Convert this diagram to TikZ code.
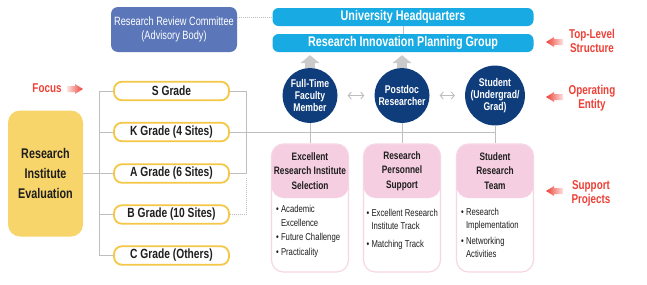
\documentclass[tikz,border=0pt]{standalone}
\usepackage{fontspec}
\setmainfont{Liberation Sans}[FakeStretch=0.77]
\usetikzlibrary{arrows.meta}
\definecolor{gyellow}{HTML}{F5C746}
\definecolor{evalfill}{HTML}{F8D56A}
\definecolor{rrcblue}{HTML}{5B77B9}
\definecolor{cyanb}{HTML}{18AAE2}
\definecolor{navy}{HTML}{0F3D7B}
\definecolor{pinkh}{HTML}{F5CEE1}
\definecolor{pinkb}{HTML}{F6D7E6}
\definecolor{redl}{HTML}{EE4036}
\definecolor{lineg}{HTML}{BEBEBE}
\definecolor{txt}{HTML}{1E1E1E}
\definecolor{arrg}{HTML}{CACACA}
\tikzset{
  conn/.style={draw=lineg, line width=1pt},
  grade/.style={draw=gyellow, line width=1.8pt, fill=white, rounded corners=8pt,
    minimum width=115pt, minimum height=18.5pt, inner sep=0pt, text=txt,
    font=\bfseries\fontsize{13.3}{15}\selectfont},
  evalbox/.style={fill=evalfill, rounded corners=12pt, minimum width=75pt, minimum height=126pt,
    inner sep=0pt, align=center, text=txt, font=\bfseries\fontsize{14}{20}\selectfont},
  rrcbox/.style={fill=rrcblue, rounded corners=7pt, minimum width=126pt, minimum height=45pt,
    inner sep=0pt, align=center, text=white, font=\fontsize{12}{14.5}\selectfont},
  topbar/.style={fill=cyanb, rounded corners=6pt, minimum width=261pt, minimum height=18pt,
    inner sep=0pt, text=white, font=\bfseries\fontsize{14}{15}\selectfont},
  entity/.style={circle, fill=navy, minimum size=55pt, inner sep=0pt, align=center, text=white,
    font=\bfseries\fontsize{11.2}{12.2}\selectfont},
  pbox/.style={draw=pinkb, line width=1.2pt, fill=white, rounded corners=12pt,
    minimum width=77pt, minimum height=128pt, inner sep=0pt,
    path picture={\fill[pinkh] (path picture bounding box.north west) rectangle
      ([yshift=-54pt]path picture bounding box.north east);}},
  htext/.style={align=center, text=txt, inner sep=0pt, font=\bfseries\fontsize{10.8}{14.3}\selectfont},
  btext/.style={align=left, text=txt, inner sep=0pt, anchor=north west},
  rlabel/.style={align=center, text=redl, inner sep=0pt, font=\bfseries\fontsize{12.8}{14}\selectfont},
  uparr/.style={draw=arrg, line width=10pt, -{Triangle[length=8pt,width=19pt]}, shorten >=3pt},
  dblarr/.style={draw=lineg, line width=0.9pt, {Straight Barb[length=3pt,width=7pt]}-{Straight Barb[length=3pt,width=7pt]},
    shorten <=10pt, shorten >=10pt}
}
\begin{document}
\begin{tikzpicture}[x=1pt,y=-1pt]
\useasboundingbox[fill=white] (0,0) rectangle (647,284);

% top structure
\node[rrcbox] (rrc) at (174,29.5) {Research Review Committee\\(Advisory Body)};
\node[topbar] (uh) at (403,17) {University Headquarters};
\node[topbar] (ripg) at (403,43) {Research Innovation Planning Group};
\draw[conn, densely dotted] (rrc.east |- uh.west) -- (uh.west);
\draw[conn] (uh.south) -- (ripg.north);

% operating entities
\node[entity] (c1) at (310,95.5) {Full-Time\\Faculty\\Member};
\node[entity] (c2) at (402,95.5) {Postdoc\\Researcher};
\node[entity] (c3) at (495,95.5) {Student\\(Undergrad/\\Grad)};
\draw[uparr] (c1.north) -- (c1.north |- ripg.south);
\draw[uparr] (c2.north) -- (c2.north |- ripg.south);
\draw[dblarr] (c1.east) -- (c2.west);
\draw[dblarr] (c2.east) -- (c3.west);

% evaluation and grades
\node[evalbox] (eval) at (45.5,173.5) {Research\\Institute\\Evaluation};
\node[grade] (S) at (171.5,91) {S Grade};
\node[grade] (K) at (171.5,132) {K Grade (4 Sites)};
\node[grade] (A) at (171.5,173.5) {A Grade (6 Sites)};
\node[grade] (B) at (171.5,214.5) {B Grade (10 Sites)};
\node[grade] (C) at (171.5,255.5) {C Grade (Others)};
\coordinate (bx) at (99.5,0);
\coordinate (rx) at (246,0);
\draw[conn] (eval.east) -- (eval.east -| bx);
\draw[conn] (S.west -| bx) -- (C.west -| bx);
\foreach \g in {S,K,A,B,C} {\draw[conn] (\g.west -| bx) -- (\g.west);}
\draw[conn] (S.east) -| (A.east -| rx) -- (A.east);
\draw[conn] (K.east) -- (K.east -| c3);
\draw[conn, densely dotted] (B.east) -| ([yshift=-4pt]A.east -| rx);

% support projects
\node[pbox] (p1) at (310,208) {};
\node[pbox] (p2) at (402,208) {};
\node[pbox] (p3) at (495,208) {};
\draw[conn] (c1.south) -- (p1.north);
\draw[conn] (c2.south) -- (p2.north);
\draw[conn] (c3.south) -- (p3.north);
\node[htext] (h1) at (310,171) {Excellent\\Research Institute\\Selection};
\node[htext] (h2) at (402,171) {Research\\Personnel\\Support};
\node[htext] (h3) at (495,171) {Student\\Research\\Team};
\node[btext, font=\fontsize{10}{14.2}\selectfont] (b1) at (276,205)
  {\textbullet\ Academic\\\hphantom{\textbullet\ }Excellence\\\textbullet\ Future Challenge\\\textbullet\ Practicality};
\node[btext, font=\fontsize{10}{13.3}\selectfont] (b2) at (366.5,209)
  {\textbullet\ Excellent Research\\\hphantom{\textbullet\ }Institute Track\\[4.4pt]\textbullet\ Matching Track};
\node[btext, font=\fontsize{10}{12.7}\selectfont] (b3) at (461,208)
  {\textbullet\ Research\\\hphantom{\textbullet\ }Implementation\\[4pt]\textbullet\ Networking\\\hphantom{\textbullet\ }Activities};

% red labels
\node[rlabel] (lt) at (592,41) {Top-Level\\Structure};
\node[rlabel] (lo) at (592,98) {Operating\\Entity};
\node[rlabel] (ls) at (591,193) {Support\\Projects};
\node[rlabel] (lf) at (47,88.5) {Focus};
\foreach \yy in {42,97,191} {
  \shade[left color=redl, right color=redl!15]
    (546,\yy) -- (554,\yy-5) -- (554,\yy-3) -- (563,\yy-3) -- (563,\yy+3)
    -- (554,\yy+3) -- (554,\yy+5) -- cycle;
}
\shade[left color=redl!15, right color=redl]
  (83,89) -- (75,84) -- (75,86) -- (67,86) -- (67,92) -- (75,92) -- (75,94) -- cycle;
\end{tikzpicture}
\end{document}
